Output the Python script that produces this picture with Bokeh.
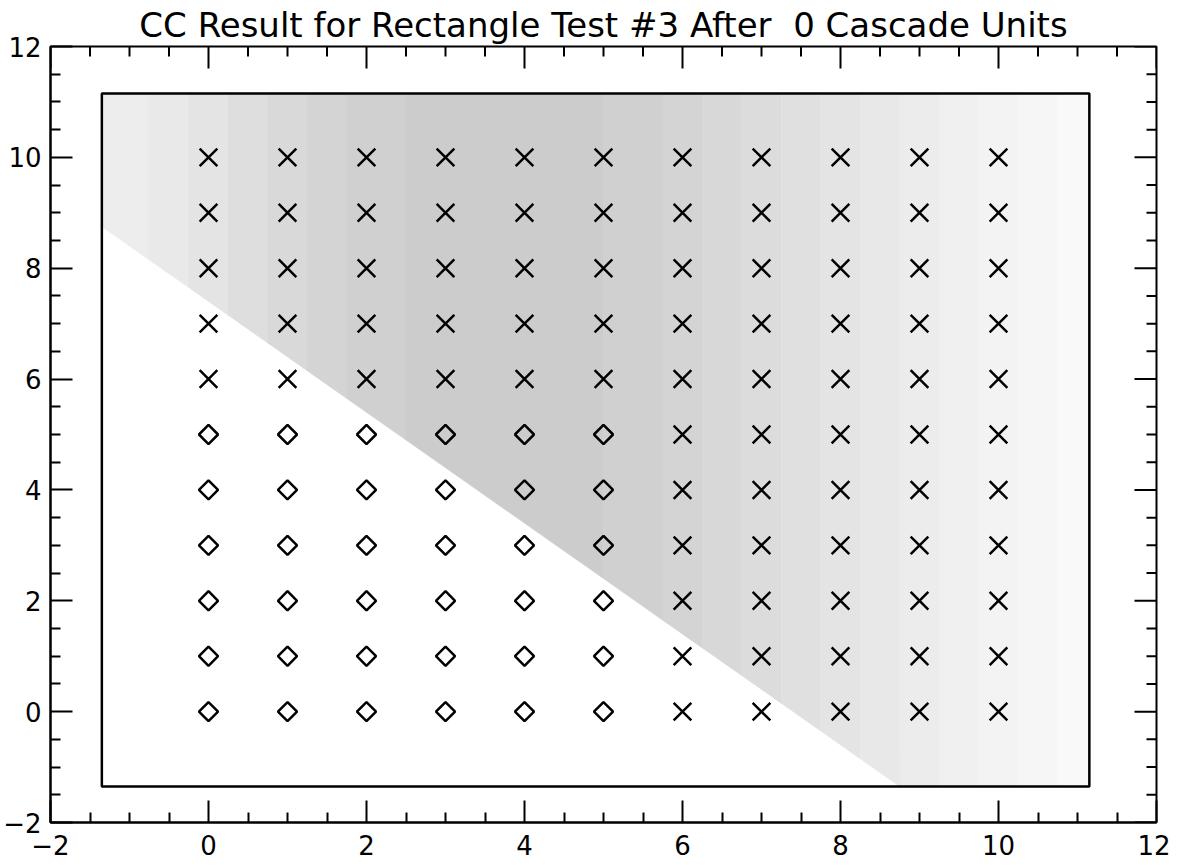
import math
import numpy as np
from bokeh.plotting import figure
from bokeh.models import FixedTicker, Title
from bokeh.embed import file_html
from bokeh.resources import INLINE

# ---------------- data ----------------
title_text = "CC Result for Rectangle Test #3 After\u00a0 0 Cascade Units"
axis_lo, axis_hi = -2, 12
major_ticks = [-2, 0, 2, 4, 6, 8, 10, 12]
minor_ticks = [-1.5, -1, -0.5, 0.5, 1, 1.5, 2.5, 3, 3.5, 4.5, 5, 5.5, 6.5, 7, 7.5,
               8.5, 9, 9.5, 10.5, 11, 11.5]
grid_x = [0, 1, 2, 3, 4, 5, 6, 7, 8, 9, 10]
grid_y = [10, 9, 8, 7, 6, 5, 4, 3, 2, 1, 0]
# class of each grid point, one string per row (top row y=10 first): X = cross, D = diamond
point_class = [
    "XXXXXXXXXXX",
    "XXXXXXXXXXX",
    "XXXXXXXXXXX",
    "XXXXXXXXXXX",
    "XXXXXXXXXXX",
    "DDDDDDXXXXX",
    "DDDDDDXXXXX",
    "DDDDDDXXXXX",
    "DDDDDDXXXXX",
    "DDDDDDXXXXX",
    "DDDDDDXXXXX",
]
# test rectangle (data units)
rect_x = [-1.35, 11.15]
rect_y = [-1.35, 11.15]
# decision boundary: shaded where x + y > boundary_sum
boundary_sum = 7.4
# shading density read in vertical strips (strip edges and gray level)
strip_edges = [-1.35, -0.75, -0.25, 0.25, 0.75, 1.25, 1.75, 2.5, 5.0, 5.75,
               6.25, 6.75, 7.25, 7.75, 8.25, 8.75, 9.25, 9.75, 10.25, 10.75, 11.15]
strip_gray = ["#ededed", "#e9e9e9", "#e4e4e4", "#dedede", "#d9d9d9", "#d4d4d4",
              "#d0d0d0", "#cccccc", "#d0d0d0", "#d4d4d4", "#d8d8d8", "#dcdcdc",
              "#e0e0e0", "#e4e4e4", "#e8e8e8", "#ececec", "#f0f0f0", "#f3f3f3",
              "#f6f6f6", "#f9f9f9"]

# ---------------- build ----------------
cx, cy, dx, dy = [], [], [], []
for r, row in enumerate(point_class):
    for c, k in enumerate(row):
        if k == "X":
            cx.append(grid_x[c]); cy.append(grid_y[r])
        else:
            dx.append(grid_x[c]); dy.append(grid_y[r])

FONT = "DejaVu Sans"

p = figure(frame_width=1106, frame_height=776,
           x_range=(axis_lo, axis_hi), y_range=(axis_lo, axis_hi),
           output_backend="svg", toolbar_location=None,
           min_border_left=45, min_border_right=14,
           min_border_top=38, min_border_bottom=38,
           background_fill_color="white", border_fill_color="white")
p.title = Title(text=title_text, align="center", text_font=FONT,
                text_font_size="34px", text_font_style="normal",
                text_color="black", standoff=4, offset=0)
p.grid.visible = False
p.outline_line_color = "black"
p.outline_line_width = 2

def style_axis(ax):
    ax.ticker = FixedTicker(ticks=major_ticks, minor_ticks=minor_ticks)
    ax.axis_line_color = "black"
    ax.axis_line_width = 2
    ax.major_tick_in = 22
    ax.major_tick_out = 0
    ax.minor_tick_in = 10
    ax.minor_tick_out = 0
    ax.major_tick_line_width = 2
    ax.minor_tick_line_width = 2
    ax.major_tick_line_color = "black"
    ax.minor_tick_line_color = "black"
    ax.major_label_text_font = FONT
    ax.major_label_text_font_size = "26px"
    ax.major_label_text_color = "black"
    ax.major_label_overrides = {-2: "\u22122"}

for ax in p.xaxis:
    style_axis(ax)
    ax.major_label_standoff = 12
for ax in p.yaxis:
    style_axis(ax)
    ax.major_label_standoff = 9

# mirrored inward ticks on the top and right edges (half of each dash is clipped by the frame)
p.scatter(major_ticks, [axis_hi] * len(major_ticks), marker="dash", angle=math.pi / 2,
          size=44, line_color="black", line_width=2)
p.scatter(minor_ticks, [axis_hi] * len(minor_ticks), marker="dash", angle=math.pi / 2,
          size=20, line_color="black", line_width=2)
p.scatter([axis_hi] * len(major_ticks), major_ticks, marker="dash",
          size=44, line_color="black", line_width=2)
p.scatter([axis_hi] * len(minor_ticks), minor_ticks, marker="dash",
          size=20, line_color="black", line_width=2)

# shading strips clipped to the half-plane x + y > boundary_sum inside the rectangle
lo, hi = rect_y
xs_list, ys_list, cols = [], [], []
for i, col in enumerate(strip_gray):
    a, b = strip_edges[i], strip_edges[i + 1]
    pts = {a, b}
    for brk in (boundary_sum - lo, boundary_sum - hi):
        if a < brk < b:
            pts.add(brk)
    px = sorted(pts)
    yb = [min(max(boundary_sum - x, lo), hi) for x in px]
    if all(v >= hi for v in yb):
        continue
    xs_list.append([a, b] + px[::-1])
    ys_list.append([hi, hi] + yb[::-1])
    cols.append(col)
p.patches(xs_list, ys_list, fill_color=cols, line_color=cols, line_width=0.6)

# the test rectangle
p.quad(left=[rect_x[0]], right=[rect_x[1]], bottom=[rect_y[0]], top=[rect_y[1]],
       fill_color=None, line_color="black", line_width=2.5)

# points
p.scatter(cx, cy, marker="x", size=25, line_color="black", line_width=2.5)
p.scatter(dx, dy, marker="square", angle=math.pi / 4, size=13.5,
          fill_color=None, line_color="black", line_width=2.5)

open("out.html", "w").write(file_html(p, INLINE))
